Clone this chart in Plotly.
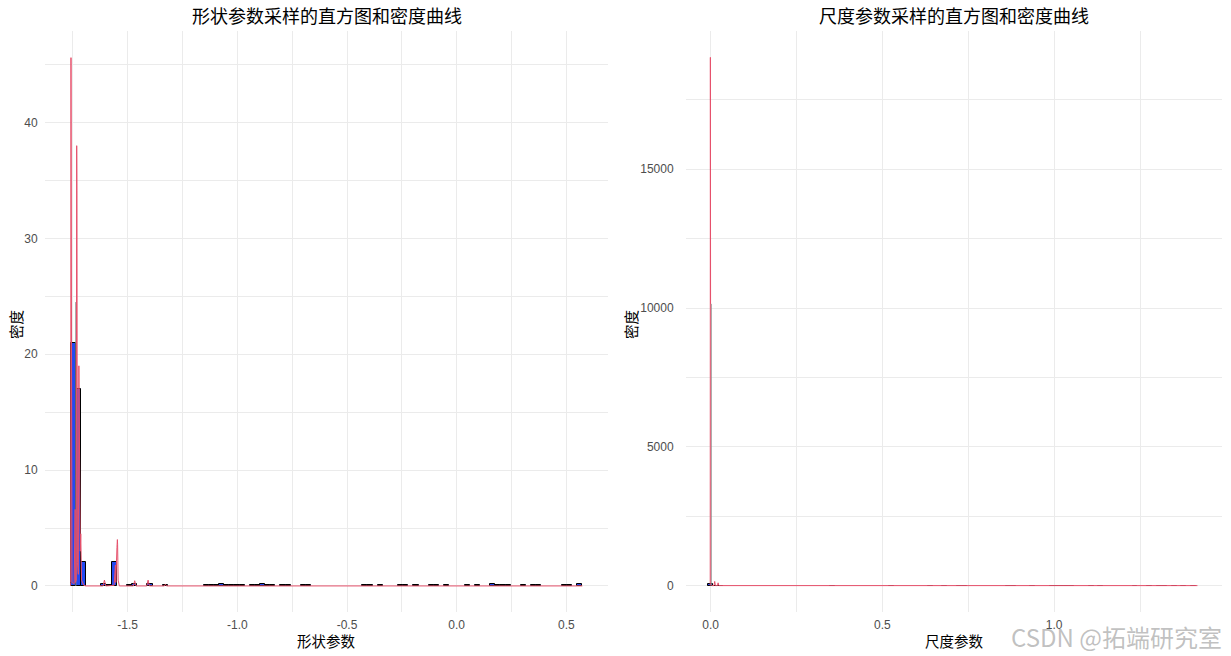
import numpy as np
import plotly.graph_objects as go

# ---------------- data: shape parameter (left panel) ----------------
shape_bin_start = -1.760
shape_bin_width = 0.02333
shape_bin_index = [0, 1, 2, 6, 7, 8, 11, 12, 15, 18,
                   26, 27, 28, 29, 30, 31, 32, 33, 35, 36, 37, 38, 39, 41, 42, 45, 46,
                   57, 58, 60, 64, 65, 67, 70, 71, 73, 77, 79, 82, 83, 84, 85, 88, 90, 91,
                   96, 97, 99]
shape_bin_density = [21.0, 17.0, 2.1, 0.15, 0.1, 2.1, 0.1, 0.15, 0.2, 0.08,
                     0.1, 0.12, 0.1, 0.15, 0.1, 0.12, 0.1, 0.1, 0.12, 0.1, 0.15, 0.1, 0.1, 0.1, 0.12, 0.1, 0.08,
                     0.1, 0.08, 0.1, 0.1, 0.12, 0.1, 0.1, 0.12, 0.08, 0.1, 0.1, 0.15, 0.12, 0.1, 0.1, 0.1, 0.08, 0.1,
                     0.1, 0.1, 0.15]

shape_dens_x = [-1.7603, -1.7600, -1.7585, -1.7580, -1.7570, -1.7540, -1.7440, -1.7397, -1.7385, -1.7345,
                -1.7325, -1.7315, -1.7290, -1.7250, -1.7225, -1.7215, -1.7195, -1.7175, -1.7160, -1.7140,
                -1.7125, -1.7105, -1.7000, -1.6900, -1.6120, -1.6060, -1.6000, -1.5620, -1.5560, -1.5540,
                -1.5490, -1.5470, -1.5460, -1.5435, -1.5380, -1.4740, -1.4680, -1.4620, -1.4130, -1.4070,
                -1.4010, -1.3330, -1.3280, -1.3230, 0.5730]
shape_dens_y = [0.0, 0.3, 45.6, 35.9, 12.0, 0.3, 0.2, 6.6, 0.3, 0.5,
                38.0, 34.1, 2.0, 1.0, 19.0, 16.5, 5.2, 4.6, 3.0, 4.5,
                2.3, 0.5, 0.05, 0.0, 0.0, 0.5, 0.0, 0.05, 1.8, 0.3,
                3.3, 4.0, 3.6, 0.5, 0.0, 0.0, 0.45, 0.0, 0.0, 0.5,
                0.0, 0.0, 0.15, 0.0, 0.0]
shape_grey_x = [-1.7365, -1.7365]
shape_grey_y = [0.0, 24.5]

# ---------------- data: scale parameter (right panel) ----------------
scale_bin_start = -0.0071
scale_bin_width = 0.0142
scale_bin_index = [0, 1, 2, 25, 37, 45, 48, 51, 52, 61, 62, 66, 70, 71, 72, 73, 74,
                   78, 80, 87, 90, 92, 93, 95, 97, 99]
scale_bin_density = [70.0, 0.07, 0.07, 0.07, 0.07, 0.07, 0.07, 0.07, 0.07, 0.07, 0.07, 0.07,
                     0.07, 0.07, 0.07, 0.07, 0.07, 0.07, 0.07, 0.07, 0.07, 0.07, 0.07, 0.07, 0.07, 0.07]

scale_dens_x = [-0.0010, -0.0005, 0.0000, None, 0.0030, 0.0100, 0.0120, 0.0140,
                0.0200, 0.0220, 0.0240, 1.4170]
scale_dens_y = [0.0, 19030.0, 10150.0, None, 0.0, 0.0, 150.0, 0.0,
                0.0, 100.0, 0.0, 0.0]
scale_grey_x = [0.0018, 0.0018]
scale_grey_y = [0.0, 10150.0]

# ---------------- text ----------------
title_left = "形状参数采样的直方图和密度曲线"
title_right = "尺度参数采样的直方图和密度曲线"
xlab_left = "形状参数"
xlab_right = "尺度参数"
ylab = "密度"
watermark = "CSDN @拓端研究室"

shape_xticks = [-1.5, -1.0, -0.5, 0.0, 0.5]
shape_yticks = [0, 10, 20, 30, 40]
scale_xticks = [0.0, 0.5, 1.0]
scale_yticks = [0, 5000, 10000, 15000]

# ---------------- style ----------------
BAR_FILL = "#2349F2"
RED = "#E6506B"
GREY_LINE = "#8A8A8A"
GRID = "#EBEBEB"
TICK_COLOR = "#4D4D4D"
FONT = "Liberation Sans, Noto Sans CJK SC, sans-serif"
CJK = "Noto Sans CJK SC, sans-serif"

fig = go.Figure()

sb_idx = np.array(shape_bin_index)
fig.add_trace(go.Bar(
    x=shape_bin_start + (sb_idx + 0.5) * shape_bin_width, y=shape_bin_density,
    width=shape_bin_width, marker=dict(color=BAR_FILL, line=dict(color="black", width=1)),
    xaxis="x", yaxis="y", showlegend=False, hoverinfo="skip"))
fig.add_trace(go.Scatter(x=shape_grey_x, y=shape_grey_y, mode="lines",
                         line=dict(color=GREY_LINE, width=1), xaxis="x", yaxis="y",
                         showlegend=False, hoverinfo="skip"))
fig.add_trace(go.Scatter(x=shape_dens_x, y=shape_dens_y, mode="lines",
                         line=dict(color=RED, width=1), xaxis="x", yaxis="y",
                         showlegend=False, hoverinfo="skip"))

cb_idx = np.array(scale_bin_index)
fig.add_trace(go.Bar(
    x=scale_bin_start + (cb_idx + 0.5) * scale_bin_width, y=scale_bin_density,
    width=scale_bin_width, marker=dict(color=BAR_FILL, line=dict(color="black", width=1)),
    xaxis="x2", yaxis="y2", showlegend=False, hoverinfo="skip"))
fig.add_trace(go.Scatter(x=scale_grey_x, y=scale_grey_y, mode="lines",
                         line=dict(color=GREY_LINE, width=1), xaxis="x2", yaxis="y2",
                         showlegend=False, hoverinfo="skip"))
fig.add_trace(go.Scatter(x=scale_dens_x, y=scale_dens_y, mode="lines", connectgaps=False,
                         line=dict(color=RED, width=1), xaxis="x2", yaxis="y2",
                         showlegend=False, hoverinfo="skip"))

ML, MR, MT, MB = 45, 9, 31, 44
W, H = 1231, 656
PW = W - ML - MR
PH = H - MT - MB

def px_x(p):
    return (p - ML) / PW

def px_y(p):
    return (H - MB - p) / PH

def axis_common(ticks, labels, minor_dtick, rng, domain, anchor, ticklen):
    return dict(
        domain=domain, anchor=anchor, range=rng, automargin=False,
        tickmode="array", tickvals=ticks, ticktext=labels,
        showgrid=True, gridcolor=GRID, gridwidth=1, zeroline=False, showline=False,
        ticks="outside", ticklen=ticklen, tickcolor="rgba(0,0,0,0)",
        tickfont=dict(family=FONT, size=12, color=TICK_COLOR),
        minor=dict(dtick=minor_dtick, tick0=0, showgrid=True, gridcolor=GRID, gridwidth=0.6, ticks=""),
    )

left_dom = [0.0, px_x(608)]
right_dom = [px_x(686), 1.0]

x1 = axis_common(shape_xticks, ["%.1f" % t for t in shape_xticks], 0.25, [-1.877, 0.690], left_dom, "y", 2)
y1 = axis_common(shape_yticks, [str(t) for t in shape_yticks], 5, [-2.25, 47.9], [0, 1], "x", 4)
x2 = axis_common(scale_xticks, ["%.1f" % t for t in scale_xticks], 0.25, [-0.0715, 1.4885], right_dom, "y2", 2)
y2 = axis_common(scale_yticks, [str(t) for t in scale_yticks], 2500, [-951, 19980], [0, 1], "x2", 9)

annotations = [
    dict(text=title_left, x=0.5, xref="x domain", y=px_y(15), yref="paper",
         showarrow=False, font=dict(family=CJK, size=18, color="black"), xanchor="center", yanchor="middle"),
    dict(text=title_right, x=0.5, xref="x2 domain", y=px_y(15), yref="paper",
         showarrow=False, font=dict(family=CJK, size=18, color="black"), xanchor="center", yanchor="middle"),
    dict(text=xlab_left, x=0.5, xref="x domain", y=px_y(640), yref="paper",
         showarrow=False, font=dict(family=CJK, size=14.5, color="black"), xanchor="center", yanchor="middle"),
    dict(text=xlab_right, x=0.5, xref="x2 domain", y=px_y(640), yref="paper",
         showarrow=False, font=dict(family=CJK, size=14.5, color="black"), xanchor="center", yanchor="middle"),
    dict(text=ylab, x=px_x(15), xref="paper", y=px_y(325), yref="paper", textangle=-90,
         showarrow=False, font=dict(family=CJK, size=14.5, color="black"), xanchor="center", yanchor="middle"),
    dict(text=ylab, x=px_x(630), xref="paper", y=px_y(325), yref="paper", textangle=-90,
         showarrow=False, font=dict(family=CJK, size=14.5, color="black"), xanchor="center", yanchor="middle"),
    dict(text=watermark, x=px_x(1116), xref="paper", y=px_y(637), yref="paper",
         showarrow=False, font=dict(family=CJK, size=24, color="rgba(140,140,140,0.55)"),
         xanchor="center", yanchor="middle"),
]

fig.update_layout(
    width=W, height=H,
    margin=dict(l=ML, r=MR, t=MT, b=MB, pad=0, autoexpand=False),
    paper_bgcolor="white", plot_bgcolor="white",
    xaxis=x1, yaxis=y1, xaxis2=x2, yaxis2=y2,
    bargap=0, barmode="overlay",
    annotations=annotations,
    showlegend=False,
    hovermode=False,
)

fig.write_html("out.html", config={"displayModeBar": False},
               post_script="document.body.style.margin='0px';document.body.style.overflow='hidden';")
